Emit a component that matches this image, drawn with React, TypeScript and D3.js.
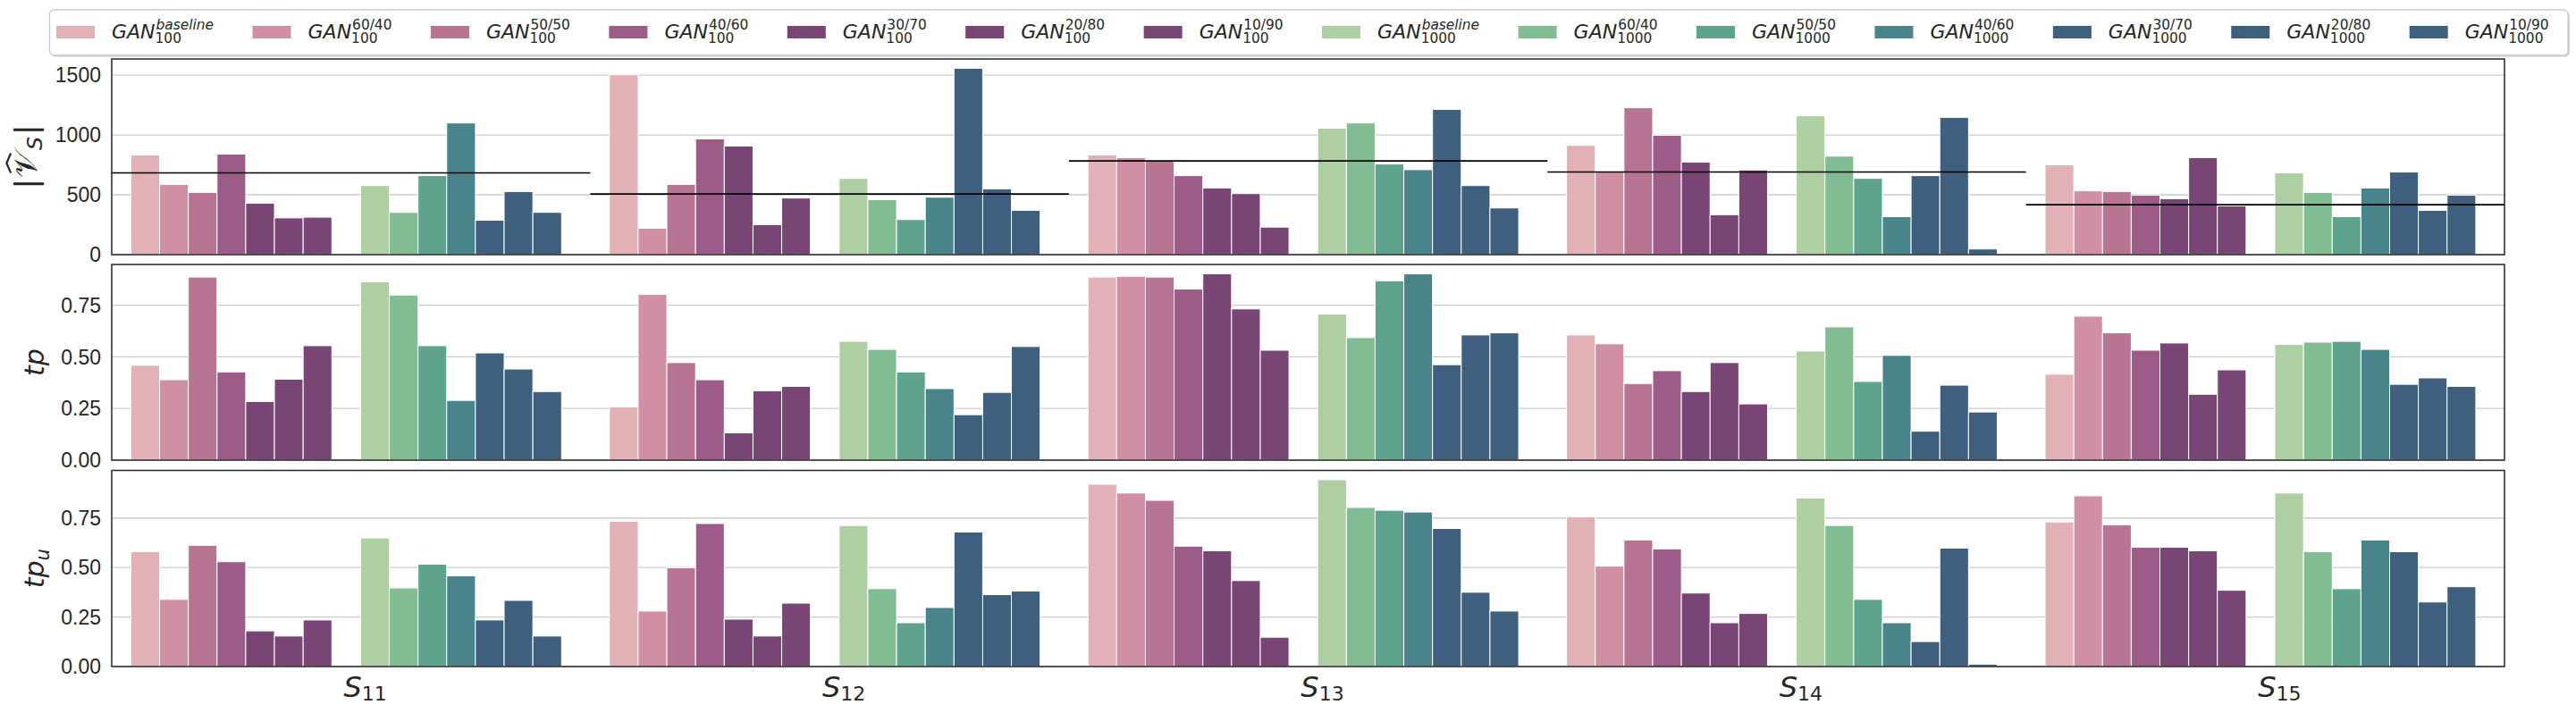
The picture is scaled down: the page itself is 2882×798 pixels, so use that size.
import React, { useEffect, useRef } from 'react';
import * as d3 from 'd3';

// ---------- data ----------
const categories = ['11', '12', '13', '14', '15'];
const ratioLabels = ['baseline', '60/40', '50/50', '40/60', '30/70', '20/80', '10/90'];
const sizeLabels = ['100', '1000'];

const colors100 = ['#e2b1b5', '#d08fa3', '#b87493', '#9c5c87', '#784575', '#784575', '#784575'];
const colors1000 = ['#aecfa2', '#82bc92', '#5fa28d', '#4a848b', '#3e5f7d', '#3e5f7d', '#3e5f7d'];

// |V_S| panel
const vs100 = [
  [833, 587, 520, 840, 430, 307, 313],
  [1503, 220, 587, 967, 907, 250, 473],
  [833, 810, 787, 660, 557, 510, 230],
  [913, 690, 1227, 997, 773, 333, 707],
  [750, 533, 527, 497, 467, 810, 407],
];
const vs1000 = [
  [577, 353, 660, 1100, 287, 527, 353],
  [637, 460, 293, 480, 1557, 550, 370],
  [1057, 1100, 757, 710, 1213, 577, 390],
  [1160, 823, 637, 317, 660, 1147, 47],
  [683, 520, 317, 557, 690, 370, 497],
];
const vsReference = [683, 507, 783, 690, 417];

// tp panel
const tp100 = [
  [0.459, 0.389, 0.886, 0.427, 0.284, 0.392, 0.554],
  [0.258, 0.802, 0.472, 0.389, 0.132, 0.336, 0.357],
  [0.886, 0.89, 0.886, 0.828, 0.902, 0.732, 0.532],
  [0.606, 0.563, 0.371, 0.433, 0.332, 0.472, 0.272],
  [0.416, 0.697, 0.616, 0.532, 0.567, 0.319, 0.437],
];
const tp1000 = [
  [0.863, 0.799, 0.554, 0.289, 0.519, 0.441, 0.332],
  [0.575, 0.536, 0.427, 0.346, 0.22, 0.328, 0.55],
  [0.707, 0.593, 0.868, 0.902, 0.462, 0.606, 0.616],
  [0.528, 0.645, 0.381, 0.507, 0.14, 0.363, 0.233],
  [0.56, 0.571, 0.575, 0.536, 0.367, 0.398, 0.357],
];

// tp_u panel
const tpu100 = [
  [0.58, 0.339, 0.612, 0.529, 0.18, 0.154, 0.235],
  [0.734, 0.28, 0.499, 0.722, 0.239, 0.154, 0.32],
  [0.92, 0.876, 0.839, 0.608, 0.584, 0.434, 0.148],
  [0.756, 0.507, 0.639, 0.594, 0.371, 0.221, 0.268],
  [0.73, 0.862, 0.716, 0.602, 0.602, 0.584, 0.385],
];
const tpu1000 = [
  [0.649, 0.397, 0.517, 0.458, 0.235, 0.334, 0.154],
  [0.712, 0.393, 0.221, 0.298, 0.679, 0.363, 0.381],
  [0.943, 0.803, 0.789, 0.78, 0.697, 0.375, 0.28],
  [0.851, 0.712, 0.339, 0.221, 0.126, 0.598, 0.012],
  [0.876, 0.58, 0.393, 0.639, 0.58, 0.326, 0.403],
];

const vsTicks = [0, 500, 1000, 1500];
const tpTicks = [0, 0.25, 0.5, 0.75];

// ---------- layout ----------
const W = 2882;
const H = 798;
const plotLeft = 125;
const plotRight = 2802;
const panelsY = [
  [66, 285],
  [296, 515],
  [526.5, 746],
];
const TEXT = '#262626';
const SANS = "'Liberation Sans', Arial, sans-serif";
const MATH = "'DejaVu Sans', sans-serif";

export default function App() {
  const ref = useRef<SVGSVGElement | null>(null);

  useEffect(() => {
    document.body.style.margin = '0';
    const svg = d3.select(ref.current as SVGSVGElement);
    svg.selectAll('*').remove();

    const x = d3.scaleBand<string>().domain(categories).range([plotLeft, plotRight]).padding(0);
    const bw = x.bandwidth();
    const slotKeys = d3.range(15).map(String);
    const slot = d3.scaleBand<string>().domain(slotKeys).range([0.04 * bw, 0.94 * bw]).padding(0);
    const sw = slot.bandwidth();

    const panels = [
      { a: vs100, b: vs1000, ticks: vsTicks, fmt: (v: number) => d3.format('d')(v), label: 'vs' },
      { a: tp100, b: tp1000, ticks: tpTicks, fmt: (v: number) => d3.format('.2f')(v), label: 'tp' },
      { a: tpu100, b: tpu1000, ticks: tpTicks, fmt: (v: number) => d3.format('.2f')(v), label: 'tpu' },
    ];

    const measure = (sel: any) => (sel.node() as SVGTextElement).getComputedTextLength();

    panels.forEach((p, pi) => {
      const [top, bottom] = panelsY[pi];
      const maxV = d3.max([...p.a.flat(), ...p.b.flat()]) as number;
      const y = d3.scaleLinear().domain([0, maxV * 1.05]).range([bottom, top]);
      const g = svg.append('g');

      g.append('rect').attr('x', plotLeft).attr('y', top).attr('width', plotRight - plotLeft).attr('height', bottom - top).attr('fill', '#fff');
      g.selectAll('line.grid')
        .data(p.ticks)
        .join('line')
        .attr('x1', plotLeft)
        .attr('x2', plotRight)
        .attr('y1', (d) => y(d))
        .attr('y2', (d) => y(d))
        .attr('stroke', '#cccccc')
        .attr('stroke-width', 1.3);

      categories.forEach((c, ci) => {
        const vals = [...p.a[ci], ...p.b[ci]];
        const cols = [...colors100, ...colors1000];
        vals.forEach((v, j) => {
          const s = j < 7 ? j : j + 1;
          g.append('rect')
            .attr('x', (x(c) as number) + (slot(String(s)) as number))
            .attr('y', y(v))
            .attr('width', sw)
            .attr('height', y(0) - y(v))
            .attr('fill', cols[j])
            .attr('stroke', '#ffffff')
            .attr('stroke-width', 1);
        });
      });

      if (pi === 0) {
        categories.forEach((c, ci) => {
          g.append('line')
            .attr('x1', x(c) as number)
            .attr('x2', (x(c) as number) + bw)
            .attr('y1', y(vsReference[ci]))
            .attr('y2', y(vsReference[ci]))
            .attr('stroke', '#000')
            .attr('stroke-width', 1.6);
        });
      }

      g.append('rect')
        .attr('x', plotLeft)
        .attr('y', top)
        .attr('width', plotRight - plotLeft)
        .attr('height', bottom - top)
        .attr('fill', 'none')
        .attr('stroke', '#262626')
        .attr('stroke-width', 1.5);

      let maxW = 0;
      p.ticks.forEach((t) => {
        const tx = g
          .append('text')
          .attr('x', 113)
          .attr('y', y(t) + 8.3)
          .attr('text-anchor', 'end')
          .attr('font-family', SANS)
          .attr('font-size', 23)
          .attr('fill', TEXT)
          .text(p.fmt(t));
        const w = measure(tx);
        if (w > maxW) maxW = w;
      });

      const fs = pi === 0 ? 34 : 30;
      const cy = (top + bottom) / 2;
      const descent = pi === 0 ? 0.24 * fs : 0.21 * fs;
      const bx = 113 - maxW - 13 - descent;
      const lg = g.append('g').attr('transform', `translate(${bx},${cy}) rotate(-90)`);
      if (p.label === 'vs') {
        // manual layout of |V̂_S| in the rotated frame
        const pieces: { t: string; size: number; italic: boolean; dy: number }[] = [
          { t: '|', size: fs, italic: false, dy: 0 },
          { t: '\u{1D4B1}', size: fs * 1.05, italic: false, dy: 0 },
          { t: 'S', size: fs * 0.7, italic: true, dy: 0.18 * fs },
          { t: '|', size: fs, italic: false, dy: 0 },
        ];
        const nodes = pieces.map((pc) =>
          lg
            .append('text')
            .attr('font-family', MATH)
            .attr('font-size', pc.size)
            .attr('font-style', pc.italic ? 'italic' : 'normal')
            .attr('fill', TEXT)
            .attr('y', pc.dy)
            .text(pc.t)
        );
        const widths = nodes.map((n) => measure(n));
        const gaps = [1, 1, 2, 0];
        const total = d3.sum(widths) + d3.sum(gaps);
        let cx = -total / 2;
        let vx = 0;
        let vw = 0;
        nodes.forEach((n, i) => {
          n.attr('x', cx);
          if (i === 1) {
            vx = cx;
            vw = widths[i];
          }
          cx += widths[i] + gaps[i];
        });
        // hat over the V
        const hTop = -0.98 * fs;
        const hBase = -0.84 * fs;
        lg.append('path')
          .attr(
            'd',
            d3.line()([
              [vx + vw * 0.18, hBase],
              [vx + vw * 0.55, hTop],
              [vx + vw * 0.92, hBase],
            ]) as string
          )
          .attr('fill', 'none')
          .attr('stroke', TEXT)
          .attr('stroke-width', 2.2);
      } else {
        const lab = lg
          .append('text')
          .attr('text-anchor', 'middle')
          .attr('font-family', MATH)
          .attr('font-size', fs)
          .attr('fill', TEXT);
        lab.append('tspan').attr('font-style', 'italic').text('tp');
        if (p.label === 'tpu') {
          lab.append('tspan').attr('font-style', 'italic').attr('font-size', fs * 0.7).attr('dy', 6).text('u');
        }
      }
    });

    categories.forEach((c) => {
      const t = svg
        .append('text')
        .attr('x', (x(c) as number) + bw / 2 + 16)
        .attr('y', 780)
        .attr('text-anchor', 'middle')
        .attr('font-family', MATH)
        .attr('fill', TEXT);
      t.append('tspan').attr('font-style', 'italic').attr('font-size', 32).text('S');
      t.append('tspan').attr('font-size', 22).attr('dy', 4).text(c);
    });

    // legend
    const lgd = svg.append('g');
    lgd.append('rect').attr('x', 57.5).attr('y', 13).attr('width', 2817.5).attr('height', 50.7).attr('rx', 5).attr('fill', '#b5b5b5').attr('opacity', 0.6);
    lgd.append('rect').attr('x', 55.5).attr('y', 11).attr('width', 2817.5).attr('height', 50.7).attr('rx', 5).attr('fill', '#fff').attr('stroke', '#cccccc').attr('stroke-width', 1.3);
    let lx = 63;
    sizeLabels.forEach((sz, si) => {
      ratioLabels.forEach((r, ri) => {
        const col = si === 0 ? colors100[ri] : colors1000[ri];
        lgd.append('rect').attr('x', lx).attr('y', 29).attr('width', 43).attr('height', 14).attr('fill', col);
        const tx0 = lx + 62;
        const gan = lgd
          .append('text')
          .attr('x', tx0)
          .attr('y', 42.7)
          .attr('font-family', MATH)
          .attr('font-style', 'italic')
          .attr('font-size', 22)
          .attr('fill', TEXT)
          .text('GAN');
        const gw = measure(gan);
        const sub = lgd
          .append('text')
          .attr('x', tx0 + gw)
          .attr('y', 47.7)
          .attr('font-family', MATH)
          .attr('font-size', 15.4)
          .attr('fill', TEXT)
          .text(sz);
        const sup = lgd
          .append('text')
          .attr('x', tx0 + gw + 1)
          .attr('y', 32.7)
          .attr('font-family', MATH)
          .attr('font-style', r === 'baseline' ? 'italic' : 'normal')
          .attr('font-size', 15.4)
          .attr('fill', TEXT)
          .text(r);
        const ws = measure(sub);
        const wp = measure(sup) + 1;
        lx = tx0 + gw + Math.max(ws, wp) + 43.5;
      });
    });
  }, []);

  return <svg ref={ref} width={W} height={H} style={{ display: 'block', background: '#fff' }} />;
}
